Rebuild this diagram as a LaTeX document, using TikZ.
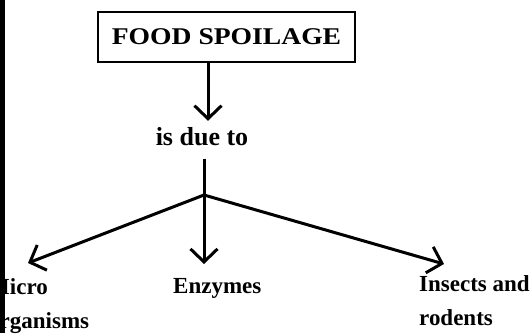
\documentclass[tikz,border=0pt]{standalone}
\usepackage{fontspec}
\setmainfont{Liberation Serif}
\usetikzlibrary{arrows.meta}
\begin{document}
\begin{tikzpicture}[x=1pt,y=-1pt,
  box/.style={draw,line width=1.4pt,minimum width=257pt,minimum height=50pt,inner sep=0pt,
    font=\fontsize{24}{28}\selectfont\bfseries},
  lbl/.style={inner sep=0pt,align=left,font=\fontsize{23}{34}\selectfont\bfseries},
  conn/.style={line width=3pt,-{Straight Barb[length=13pt,width=27pt,line width=3pt]}},
  plain/.style={line width=3pt}]
\useasboundingbox (0,0) rectangle (531,333);
\clip (0,0) rectangle (531,333);
\node[box] (fs) at (226.5,37) {\scalebox{1.15}[1]{FOOD SPOILAGE}};
\node[inner sep=0pt,anchor=base,font=\fontsize{26}{30}\selectfont\bfseries] (due) at (202,145) {is due to};
\coordinate (j) at (204,195);
\coordinate (tipL) at (28,263);
\coordinate (tipC) at (204,264);
\coordinate (tipR) at (444,264);
\node[lbl,anchor=base west] (micro) at (-12,328) {Micro\\organisms};
\node[lbl,anchor=base west] (enz) at (173,293) {Enzymes};
\node[lbl,anchor=base west] (ins) at (419,325) {Insects and\\rodents};
\draw[conn] ([xshift=-18.5pt]fs.south) -- ([xshift=6pt,yshift=6pt]due.north);
\draw[plain] ([xshift=2pt,yshift=-13pt]due.south) -- (j);
\draw[conn] (j) -- (tipL);
\draw[conn] (j) -- (tipC);
\draw[conn] (j) -- (tipR);
\fill (0,0) rectangle (5,333);
\end{tikzpicture}
\end{document}
